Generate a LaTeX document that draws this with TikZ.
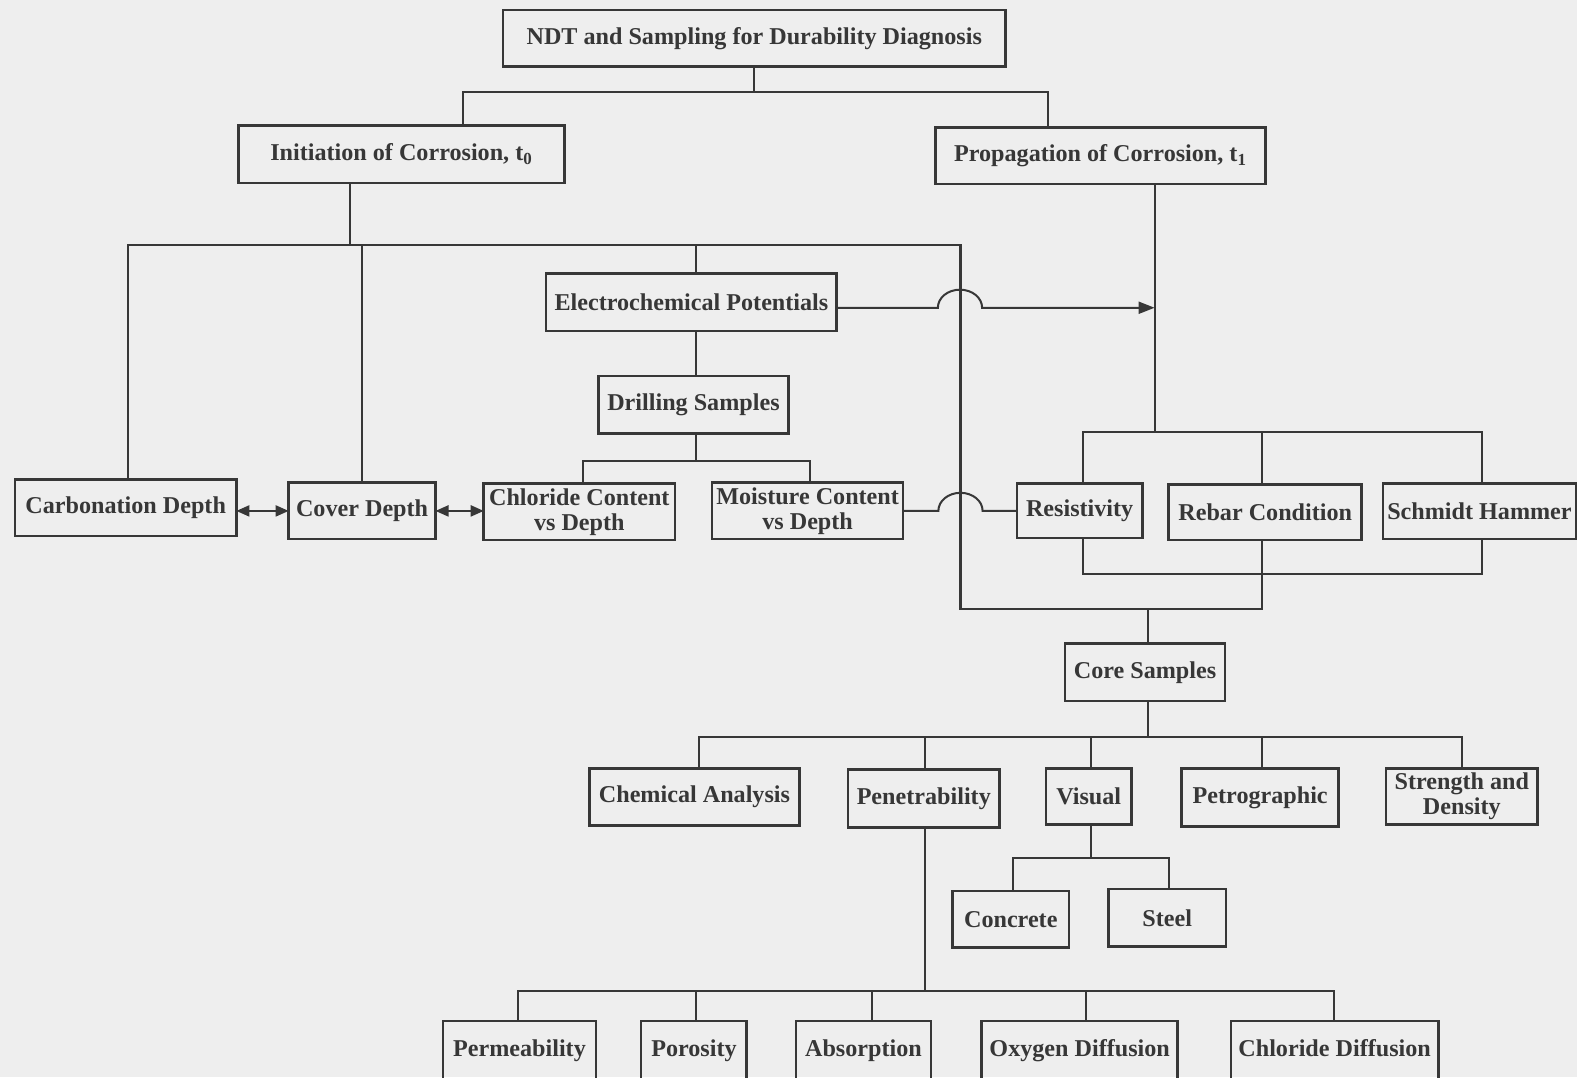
\documentclass[tikz,border=0pt]{standalone}
\usepackage{fontspec}
\setmainfont{Liberation Serif}
\usetikzlibrary{arrows.meta,calc}
\definecolor{bg}{RGB}{238,238,238}
\definecolor{ink}{RGB}{55,55,55}
\begin{document}
\begin{tikzpicture}[x=1pt,y=-1pt,
  box/.style={draw=ink,line width=2.6pt,outer sep=0pt,text=ink,font=\fontsize{24}{25}\selectfont\bfseries,align=center,inner sep=0pt,minimum height=56pt},
  botbox/.style={box,minimum height=60pt,anchor=north,text height=17pt,text depth=6pt},
  conn/.style={draw=ink,line width=2pt},
  dbl/.style={conn,{Triangle[length=13pt,width=11pt]}-{Triangle[length=13pt,width=11pt]}},
  arr/.style={conn,-{Triangle[length=16pt,width=12pt]}}
]
\fill[bg] (0,0) rectangle (1568,1071);
\useasboundingbox (0,0) rectangle (1568,1071);

% nodes
\node[box,minimum width=500pt] (ndt) at (750,38) {NDT and Sampling for Durability Diagnosis};
\node[box,minimum width=324pt,minimum height=57pt] (init) at (399,153.5) {Initiation of Corrosion, t\textsubscript{0}};
\node[box,minimum width=328pt] (prop) at (1094,155) {Propagation of Corrosion, t\textsubscript{1}};
\node[box,minimum width=289pt,minimum height=57pt] (ep) at (687.5,300.5) {Electrochemical Potentials};
\node[box,minimum width=189pt,minimum height=57pt] (drill) at (689.5,402.5) {Drilling Samples};
\node[box,minimum width=220pt] (carb) at (125,505) {Carbonation Depth};
\node[box,minimum width=146pt] (cover) at (360,508) {Cover Depth};
\node[box,minimum width=190pt] (chl) at (576,509) {Chloride Content\\vs Depth};
\node[box,minimum width=190pt] (moi) at (803,508) {Moisture Content\\vs Depth};
\node[box,minimum width=125pt,minimum height=54pt] (res) at (1073.5,508) {Resistivity};
\node[box,minimum width=192pt,minimum height=55pt] (rebar) at (1258,509.5) {Rebar Condition};
\node[box,minimum width=192pt,minimum height=55pt] (schm) at (1471,508.5) {Schmidt Hammer};
\node[box,minimum width=159pt,minimum height=57pt] (core) at (1138.5,668.5) {Core Samples};
\node[box,minimum width=209pt,minimum height=57pt] (chem) at (690.5,792.5) {Chemical Analysis};
\node[box,minimum width=151pt,minimum height=58pt] (pen) at (918.5,794) {Penetrability};
\node[box,minimum width=85pt] (vis) at (1082.5,792) {Visual};
\node[box,minimum width=156pt,minimum height=58pt] (pet) at (1253,793) {Petrographic};
\node[box,minimum width=151pt] (str) at (1453.5,792) {Strength and\\Density};
\node[box,minimum width=116pt] (conc) at (1005,914) {Concrete};
\node[box,minimum width=117pt,minimum height=57pt] (steel) at (1160.5,912.5) {Steel};
\node[botbox,minimum width=152pt] (perm) at (516.5,1015) {Permeability};
\node[botbox,minimum width=105pt] (poro) at (690,1015) {Porosity};
\node[botbox,minimum width=134pt] (absn) at (858.5,1015) {Absorption};
\node[botbox,minimum width=195pt] (oxy) at (1073.5,1015) {Oxygen Diffusion};
\node[botbox,minimum width=206pt] (cdiff) at (1327,1015) {Chloride Diffusion};

% connectors
\draw[conn] (ndt.south) -- ++(0,25) coordinate (b1);
\draw[conn] ([xshift=61]init.north) |- (b1) -| ([xshift=-52]prop.north);

\draw[conn] ([xshift=-51]init.south) -- ++(0,62) coordinate (b2);
\coordinate (b2r) at (955,244);
\coordinate (b5) at (955,606);
\draw[conn] ([xshift=2]carb.north) |- (b2r) -- (b5) -| ([xshift=-3]rebar.south);
\draw[conn] (cover.north) -- (cover.north |- b2);
\draw[conn] ([xshift=4.5]ep.north) -- ([xshift=4.5]ep.north |- b2);
\draw[conn] ([xshift=4.5]ep.south) -- ([xshift=2.5]drill.north);
\draw[conn] ([xshift=2.5]drill.south) -- ++(0,27) coordinate (b3);
\draw[conn] ([xshift=4]chl.north) |- (b3) -| ([xshift=2]moi.north);

\draw[conn] ([xshift=54]prop.south) -- ++(0,247) coordinate (b4);
\draw[conn] ([xshift=3]res.north) |- (b4) -| ([xshift=3]schm.north);
\draw[conn] ([xshift=-3]rebar.north) -- ([xshift=-3]rebar.north |- b4);
\draw[conn] ([xshift=3]res.south) -- ++(0,36) -| ([xshift=3]schm.south);

\draw[arr] ([yshift=-5.5]ep.east) -- ++(100.5,0) arc[start angle=180,end angle=0,x radius=22pt,y radius=18pt] -- ([yshift=-5.5]ep.east -| b4);
\draw[conn] (moi.east) -- ++(35,0) arc[start angle=180,end angle=0,x radius=22pt,y radius=18pt] -- (res.west);

\draw[dbl] (carb.east |- cover.west) -- (cover.west);
\draw[dbl] (cover.east) -- (chl.west |- cover.east);

\draw[conn] ([xshift=2.5]core.north) -- ([xshift=2.5]core.north |- b5);
\draw[conn] ([xshift=2.5]core.south) -- ++(0,36) coordinate (b6);
\draw[conn] ([xshift=4.5]chem.north) |- (b6) -| (str.north);
\draw[conn] ([xshift=1.5]pen.north) -- ([xshift=1.5]pen.north |- b6);
\draw[conn] ([xshift=2.5]vis.north) -- ([xshift=2.5]vis.north |- b6);
\draw[conn] ([xshift=2]pet.north) -- ([xshift=2]pet.north |- b6);

\draw[conn] ([xshift=2.5]vis.south) -- ++(0,33) coordinate (b7);
\draw[conn] ([xshift=2]conc.north) |- (b7) -| ([xshift=1.5]steel.north);

\draw[conn] ([xshift=1]pen.south) -- ++(0,162) coordinate (b8);
\draw[conn] ([xshift=-1.5]perm.north) |- (b8) -| ([xshift=-1]cdiff.north);
\draw[conn] ([xshift=2.5]poro.north) -- ([xshift=2.5]poro.north |- b8);
\draw[conn] ([xshift=8.5]absn.north) -- ([xshift=8.5]absn.north |- b8);
\draw[conn] ([xshift=6.5]oxy.north) -- ([xshift=6.5]oxy.north |- b8);
\end{tikzpicture}
\end{document}
